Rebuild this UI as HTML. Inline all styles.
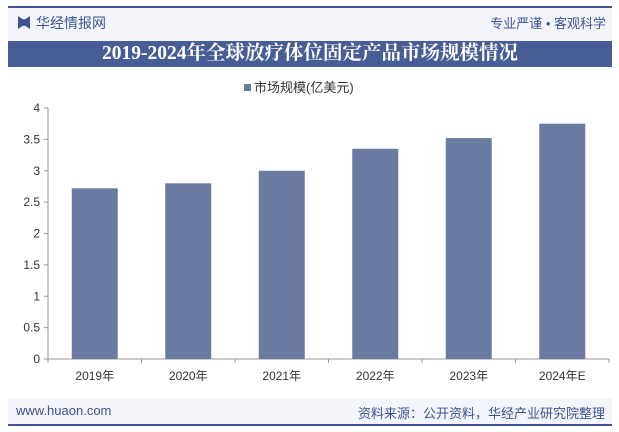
<!DOCTYPE html>
<html><head><meta charset="utf-8"><style>
body{margin:0;width:619px;height:432px;background:#fff;font-family:"Liberation Sans","Noto Sans CJK SC",sans-serif;position:relative;overflow:hidden}
.abs{position:absolute}
</style></head><body>
<div class="abs" style="left:8px;top:6px;width:604px;height:2px;background:#3d5390"></div>
<div class="abs" style="left:8px;top:8px;width:604px;height:33px;background:#f3f5fa"></div>
<div class="abs" style="left:18px;top:16px;width:12px;height:13px;background:#3d5390;clip-path:polygon(0 0,40% 25%,60% 25%,100% 0,100% 100%,60% 75%,40% 75%,0 100%)"></div>
<div class="abs" style="left:36px;top:13px;font-size:14px;color:#3d5390">华经情报网</div>
<div class="abs" style="right:13px;top:13px;font-size:13px;color:#3d5390">专业严谨 • 客观科学</div>
<div class="abs" style="left:8px;top:41px;width:604px;height:26px;background:#475d95;color:#fff;font-family:'Liberation Serif','Noto Serif CJK SC',serif;font-weight:bold;font-size:19.5px;line-height:26px;text-align:center">2019-2024年全球放疗体位固定产品市场规模情况</div>
<div class="abs" style="left:244px;top:77px;font-size:13px;color:#333"><span style="display:inline-block;width:7px;height:7px;background:#6a7aa1;margin-right:3px;vertical-align:1px"></span>市场规模(亿美元)</div>
<svg class="abs" style="left:0;top:0" width="619" height="432">
<g id="g"></g></svg>
<div class="abs" style="left:8px;top:398px;width:604px;height:26px;background:#f3f5fa"></div>
<div class="abs" style="left:16px;top:403px;font-size:13px;color:#3d5390">www.huaon.com</div>
<div class="abs" style="right:14px;top:403px;font-size:13px;color:#3d5390">资料来源：公开资料，华经产业研究院整理</div>
<div class="abs" style="left:8px;top:424px;width:604px;height:2px;background:#3d5390"></div>
<script>
const categories=["2019年","2020年","2021年","2022年","2023年","2024年E"];
const values=[2.72,2.8,3.0,3.35,3.52,3.75];
const yTicks=[0,0.5,1,1.5,2,2.5,3,3.5,4];
const NS="http://www.w3.org/2000/svg",g=document.getElementById('g');
const x0=48,x1=609,y0=359,yTop=108,ymax=4;
const y=v=>y0-(v/ymax)*(y0-yTop);
const bw=(x1-x0)/categories.length;
function mk(t,a){const e=document.createElementNS(NS,t);for(const k in a)e.setAttribute(k,a[k]);g.appendChild(e);return e;}
let ax=mk('line',{x1:x0,y1:yTop,x2:x0,y2:y0,stroke:'#999'});


let bx=mk('line',{x1:x0,y1:y0,x2:x1,y2:y0,stroke:'#999'});


yTicks.forEach(v=>{mk('line',{x1:x0-4,y1:y(v),x2:x0,y2:y(v),stroke:'#999'});
let t=mk('text',{x:x0-8,y:y(v)+4,'text-anchor':'end','font-size':12,fill:'#333'});t.textContent=v;

});
for(let i=0;i<=categories.length;i++)mk('line',{x1:x0+i*bw,y1:y0,x2:x0+i*bw,y2:y0+4,stroke:'#999'});
categories.forEach((c,i)=>{const cx=x0+bw*(i+.5);
let r=mk('rect',{x:cx-23,y:y(values[i]),width:46,height:y0-y(values[i]),fill:'#6a7aa1'});


let t=mk('text',{x:cx,y:y0+21,'text-anchor':'middle','font-size':12,fill:'#333'});t.textContent=c;

});
</script>
</body></html>
